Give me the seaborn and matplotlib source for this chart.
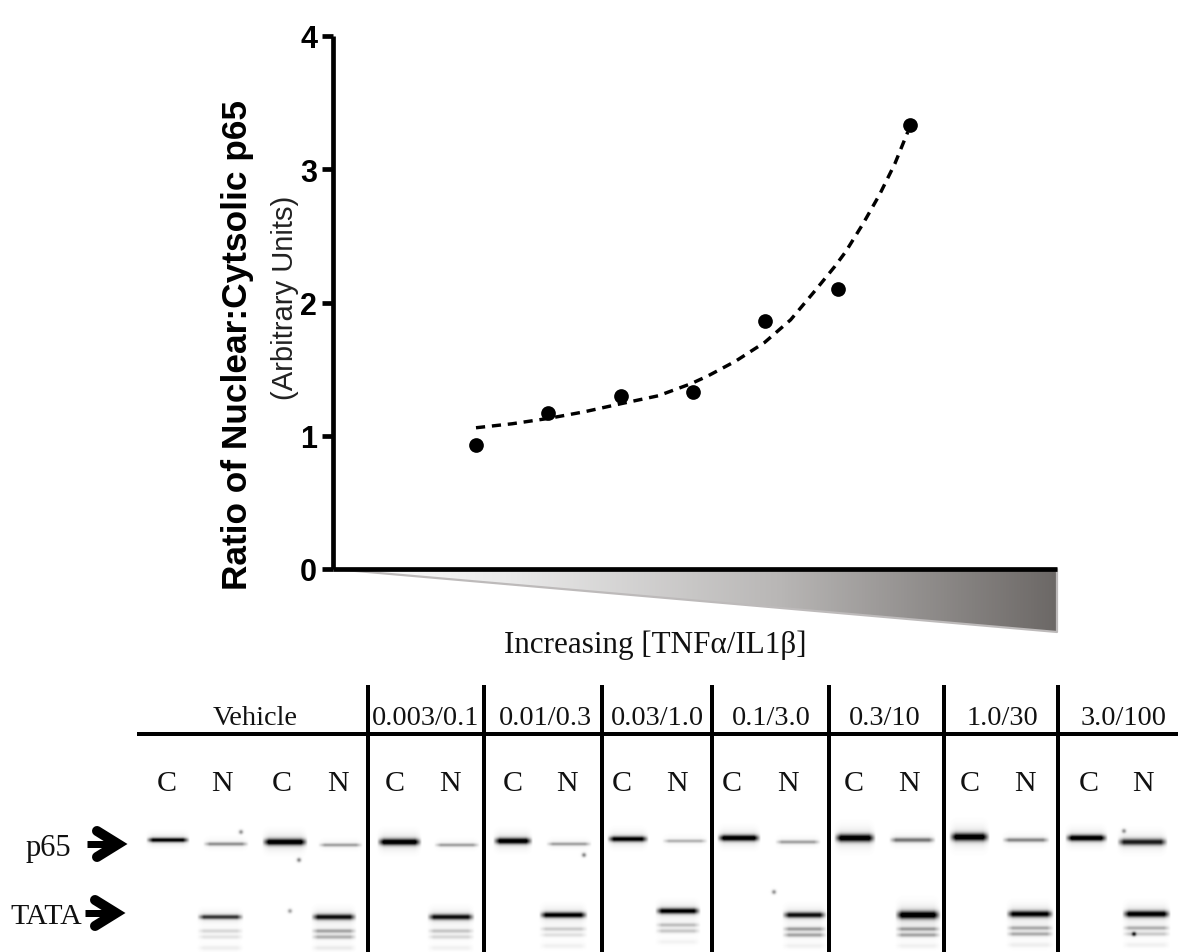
import numpy as np
import pandas as pd
import matplotlib
matplotlib.use("Agg")
import matplotlib.pyplot as plt
from matplotlib.patches import Polygon
from matplotlib.colors import LinearSegmentedColormap
import seaborn as sns

# ---- data ----
dose_rank = [2, 3, 4, 5, 6, 7, 8]
ratio = [0.93, 1.17, 1.30, 1.33, 1.86, 2.10, 3.33]
fit_rank = [2, 2.5, 3, 3.5, 4, 4.52, 4.97, 5.21, 5.59, 5.99, 6.35, 6.69, 6.96, 7.11, 7.35, 7.58, 7.79, 7.97]
fit_ratio = [1.06, 1.09, 1.13, 1.18, 1.24, 1.30, 1.39, 1.45, 1.56, 1.70, 1.87, 2.09, 2.27, 2.38, 2.59, 2.81, 3.04, 3.28]
y_ticks = [0, 1, 2, 3, 4]

group_labels = ["Vehicle", "0.003/0.1", "0.01/0.3", "0.03/1.0", "0.1/3.0", "0.3/10", "1.0/30", "3.0/100"]
lane_letters = ["C", "N"] * 9
p65_density = [0.90, 0.38, 1.0, 0.32, 1.0, 0.32, 1.0, 0.32, 0.92, 0.26, 1.0, 0.32, 1.0, 0.48, 1.0, 0.42, 1.0, 0.80]
tata_density = [0.70, 0.85, 0.85, 0.92, 0.92, 0.85, 1.0, 0.92, 0.95]
sub1_density = [0.13, 0.30, 0.19, 0.17, 0.21, 0.32, 0.32, 0.28, 0.26]
sub2_density = [0.09, 0.26, 0.13, 0.10, 0.18, 0.30, 0.30, 0.28, 0.17]
smear_density = [0.06, 0.07, 0.05, 0.05, 0.04, 0.05, 0.05, 0.06, 0.05]
speck_density = [0.4, 0.45, 0.45, 0.35, 0.4, 0.4, 0.7]

# ---- layout (pixels of the 1178x953 figure) ----
W, H = 1178, 953
AX_L, AX_R, AX_T, AX_B = 333, 1057, 37, 570
group_x = [255, 426, 545, 657, 771, 885, 1002, 1124]
letter_x = [167, 222, 282, 338, 395, 450, 513, 567, 622, 677, 732, 788, 854, 909, 970, 1025, 1089, 1143]
p65_span = [(146, 190), (203, 249), (262, 308), (318, 363), (377, 422), (434, 480), (493, 533), (546, 592),
            (607, 649), (662, 708), (717, 761), (775, 821), (834, 876), (889, 936), (949, 990), (1002, 1050),
            (1065, 1108), (1117, 1168)]
p65_y = [841, 845, 843, 846, 843, 846, 842, 845, 840, 842, 839, 843, 839, 841, 838, 841, 839, 843]
p65_sig = [2.2, 1.9, 3.2, 1.8, 3.2, 1.8, 3.0, 1.8, 2.7, 1.8, 3.0, 1.9, 3.7, 2.3, 3.9, 2.1, 3.0, 3.2]
tata_span = [(197, 244), (311, 357), (427, 475), (539, 588), (655, 701), (782, 827), (895, 941), (1006, 1054), (1122, 1171)]
tata_y = [918, 918, 918, 916, 912, 916, 916, 915, 915]
tata_sig = [2.3, 2.8, 2.8, 2.8, 2.8, 2.8, 3.9, 3.2, 3.2]
sub_offset = [14, 20, 31]
speck_xy = [(241, 833), (299, 861), (584, 856), (290, 912), (774, 893), (1124, 832), (1134, 935)]
dividers = [368, 484, 602, 712, 829, 944, 1058]

sns.set_theme(style="ticks")
plt.rcParams["font.family"] = ["Liberation Sans", "DejaVu Sans"]
SERIF = ["Liberation Serif", "DejaVu Serif"]
PX = 72 / 100

fig = plt.figure(figsize=(W / 100, H / 100), dpi=100, facecolor="white")

# ---- full-figure pixel layer: wedge, blot, annotations ----
bg = fig.add_axes([0, 0, 1, 1], zorder=0)
bg.set_xlim(0, W)
bg.set_ylim(H, 0)
bg.axis("off")

corners = [(AX_L, AX_B), (AX_R, AX_B), (AX_R, 633)]
clip = Polygon(corners, closed=True, facecolor="none", edgecolor="none")
bg.add_patch(clip)
ramp = LinearSegmentedColormap.from_list(
    "ramp", [(0, "#ffffff"), (0.23, "#ebebeb"), (0.62, "#b8b6b5"), (1, "#6c6866")])
im = bg.imshow(np.linspace(0, 1, 512)[None, :], extent=(AX_L, AX_R, 633, AX_B), aspect="auto",
               cmap=ramp, vmin=0, vmax=1, zorder=1)
im.set_clip_path(clip)
edge_x, edge_y = zip(corners[0], corners[2], corners[1])
bg.plot(edge_x, edge_y, color="#bdbaba", lw=2.2 * PX, zorder=2)

# blot rendered as soft bands
top, bottom = 815, H
xx, yy = np.meshgrid(np.arange(W) + 0.5, np.arange(top, bottom) + 0.5)


def band(span, yc, sig, dens):
    x0, x1 = span
    edge = np.clip((xx - x0) / 7, 0, 1) * np.clip((x1 - xx) / 7, 0, 1)
    core = np.exp(-((yy - yc) / sig) ** 2)
    halo = 0.12 * np.exp(-((yy - yc) / (sig * 2.6)) ** 2)
    return dens * (core + halo) * edge


ink = np.zeros_like(xx)
for s, y, g, d in zip(p65_span, p65_y, p65_sig, p65_density):
    ink += band(s, y, g, d)
for s, y, g, d, d1, d2, d3 in zip(tata_span, tata_y, tata_sig, tata_density,
                                  sub1_density, sub2_density, smear_density):
    ink += band(s, y, g, d)
    ink += band(s, y + sub_offset[0], 2.1, d1)
    ink += band(s, y + sub_offset[1], 2.1, d2)
    ink += band(s, y + sub_offset[2], 2.5, d3)
for (sx, sy), d in zip(speck_xy, speck_density):
    ink += d * np.exp(-(((xx - sx) / 2.2) ** 2 + ((yy - sy) / 2.2) ** 2))
ink = np.clip(ink, 0, 1)
bg.imshow(1 - ink, extent=(0, W, bottom, top), aspect="auto", cmap="gray", vmin=0, vmax=1, zorder=1)
bg.set_xlim(0, W)
bg.set_ylim(H, 0)

# rules
bg.plot([137, W], [735, 735], color="black", lw=4 * PX, solid_capstyle="butt", zorder=3)
for dx in dividers:
    bg.plot([dx, dx], [686, H], color="black", lw=4 * PX, solid_capstyle="butt", zorder=3)

# labels
for x, t in zip(group_x, group_labels):
    bg.text(x, 719, t, family=SERIF, fontsize=20.3, ha="center", va="center", color="#111111")
for x, t in zip(letter_x, lane_letters):
    bg.text(x, 784, t, family=SERIF, fontsize=21.6, ha="center", va="center", color="#111111")
bg.text(655, 645, "Increasing [TNF\u03b1/IL1\u03b2]", family=SERIF, fontsize=22.4, ha="center", va="center", color="#111111")
bg.text(48, 849, "p65", family=SERIF, fontsize=22, ha="center", va="center", color="#111111")
bg.text(46, 917, "TATA", family=SERIF, fontsize=21.5, ha="center", va="center", color="#111111")

# arrows
for y0, x0, tip in ((845, 87, 118), (914, 85, 116)):
    bg.plot([x0, tip], [y0, y0], color="black", lw=7 * PX, solid_capstyle="butt", zorder=4)
    bg.plot([tip - 21, tip, tip - 21], [y0 - 13, y0, y0 + 13], color="black", lw=10 * PX,
            solid_capstyle="round", solid_joinstyle="miter", zorder=4)

# ---- main chart ----
ax = fig.add_axes([AX_L / W, 1 - AX_B / H, (AX_R - AX_L) / W, (AX_B - AX_T) / H], zorder=2)
ax.patch.set_alpha(0)
fit = pd.DataFrame({"rank": fit_rank, "ratio": fit_ratio})
pts = pd.DataFrame({"rank": dose_rank, "ratio": ratio})
sns.lineplot(data=fit, x="rank", y="ratio", ax=ax, color="black", lw=3.4 * PX, linestyle=(0, (2.7, 2.0)), errorbar=None)
sns.scatterplot(data=pts, x="rank", y="ratio", ax=ax, color="black", s=112, linewidth=0, zorder=3)
ax.set_xlim(0.023, 10.033)
ax.set_ylim(0, 4)
ax.set_xticks([])
ax.set_yticks(y_ticks)
ax.set_yticklabels([str(v) for v in y_ticks], fontsize=22, fontweight="bold", color="black")
ax.tick_params(axis="y", length=8, width=4.7 * PX, color="black", pad=3.5)
ax.set_xlabel("")
ax.set_ylabel("")
for side in ("top", "right"):
    ax.spines[side].set_visible(False)
for side in ("left", "bottom"):
    ax.spines[side].set_linewidth(4.7 * PX)
    ax.spines[side].set_color("black")
    ax.spines[side].set_capstyle("butt")

bg.text(237, 345, "Ratio of Nuclear:Cytsolic p65", fontsize=25.4, fontweight="bold", rotation=90,
        ha="center", va="center", color="black")
bg.text(285, 298, "(Arbitrary Units)", fontsize=21, rotation=90, ha="center", va="center", color="#222222")

fig.savefig("out.png", dpi=100, facecolor="white")
